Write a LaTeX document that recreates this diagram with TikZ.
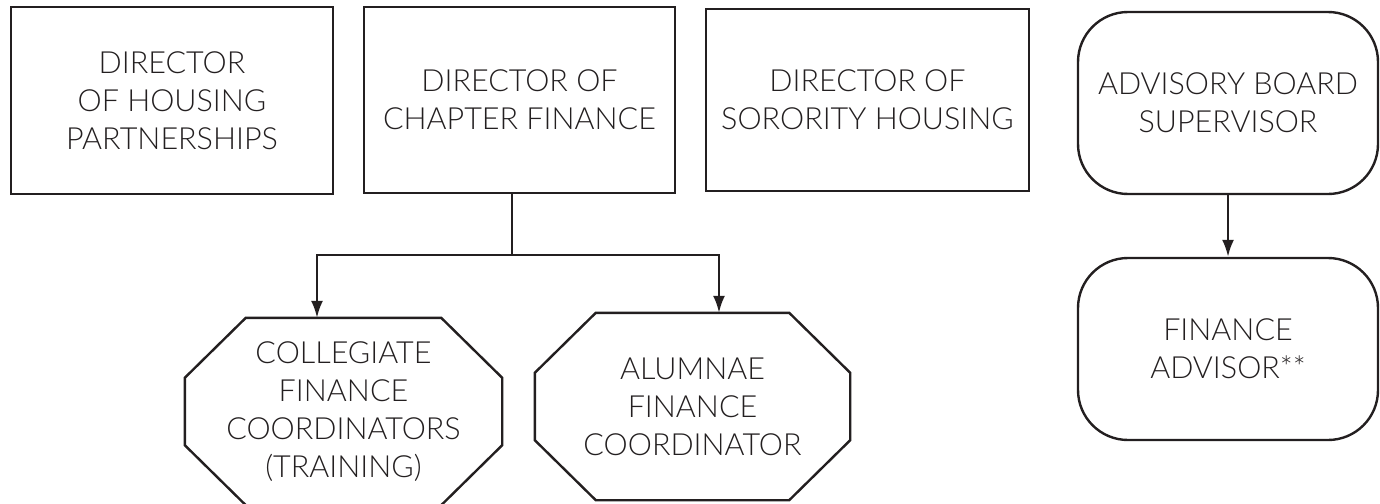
\documentclass[tikz,border=0pt]{standalone}
\usepackage{fontspec}
\setmainfont{Lato Light}
\usepackage{xcolor}
\usetikzlibrary{positioning,arrows.meta}
\definecolor{ink}{HTML}{231F20}
% octagon drawn round a plain node
\newcommand{\octframe}[1]{%
  \draw[boxline] ([xshift=61pt]#1.north west) -- ([xshift=-61pt]#1.north east)
    -- ([yshift=-60pt]#1.north east) -- ([yshift=60pt]#1.south east)
    -- ([xshift=-61pt]#1.south east) -- ([xshift=61pt]#1.south west)
    -- ([yshift=60pt]#1.south west) -- ([yshift=-60pt]#1.north west) -- cycle;}

\begin{document}
\begin{tikzpicture}[x=1pt,y=-1pt,
    every node/.style={align=center,font=\fontsize{30.5}{38}\selectfont,text=ink},
    boxline/.style={draw=ink,line width=2.4pt,inner sep=0pt},
    officer/.style={boxline,rectangle,minimum width=322pt,minimum height=187pt},
    coordinator/.style={inner sep=0pt,minimum width=317pt,minimum height=187pt},
    advisor/.style={boxline,rectangle,rounded corners=50pt,minimum width=300pt,minimum height=182pt},
    link/.style={draw=ink,line width=2.4pt},
    >={Latex[length=17pt,width=12pt]}]
    \useasboundingbox (0,0) rectangle (1380,503);
    % top row
    \node[officer] (HousePart) at (172,100.5) {DIRECTOR\\OF HOUSING\\PARTNERSHIPS};
    \node[officer,minimum width=311pt,minimum height=186pt] (ChapFin) at (519.5,100) {DIRECTOR OF\\CHAPTER FINANCE};
    \node[officer,minimum width=323pt,minimum height=182pt] (SorHouse) at (867.5,100) {DIRECTOR OF\\SORORITY HOUSING};
    \node[advisor] (BoardSup) at (1228,103) {ADVISORY BOARD\\SUPERVISOR};
    \node[advisor,on grid,below=246pt of BoardSup] (FinAdv) {FINANCE\\ADVISOR**};
    % coordinators
    \node[coordinator] (CollCoord) at (343.5,411.5) {COLLEGIATE\\FINANCE\\COORDINATORS\\(TRAINING)};
    \node[coordinator,minimum width=315pt] (AlumCoord) at (692.5,406.5) {ALUMNAE\\FINANCE\\COORDINATOR};
    \octframe{CollCoord}
    \octframe{AlumCoord}
    \coordinate (split) at (512,255);
    \draw[link] (ChapFin.south -| split) -- (split);
    \draw[link,->] (split) -| ([xshift=-26.5pt]CollCoord.north);
    \draw[link,->] (split) -| ([xshift=26.5pt]AlumCoord.north);
    \draw[link,->] (BoardSup) -- (FinAdv);
  \end{tikzpicture}
\end{document}
